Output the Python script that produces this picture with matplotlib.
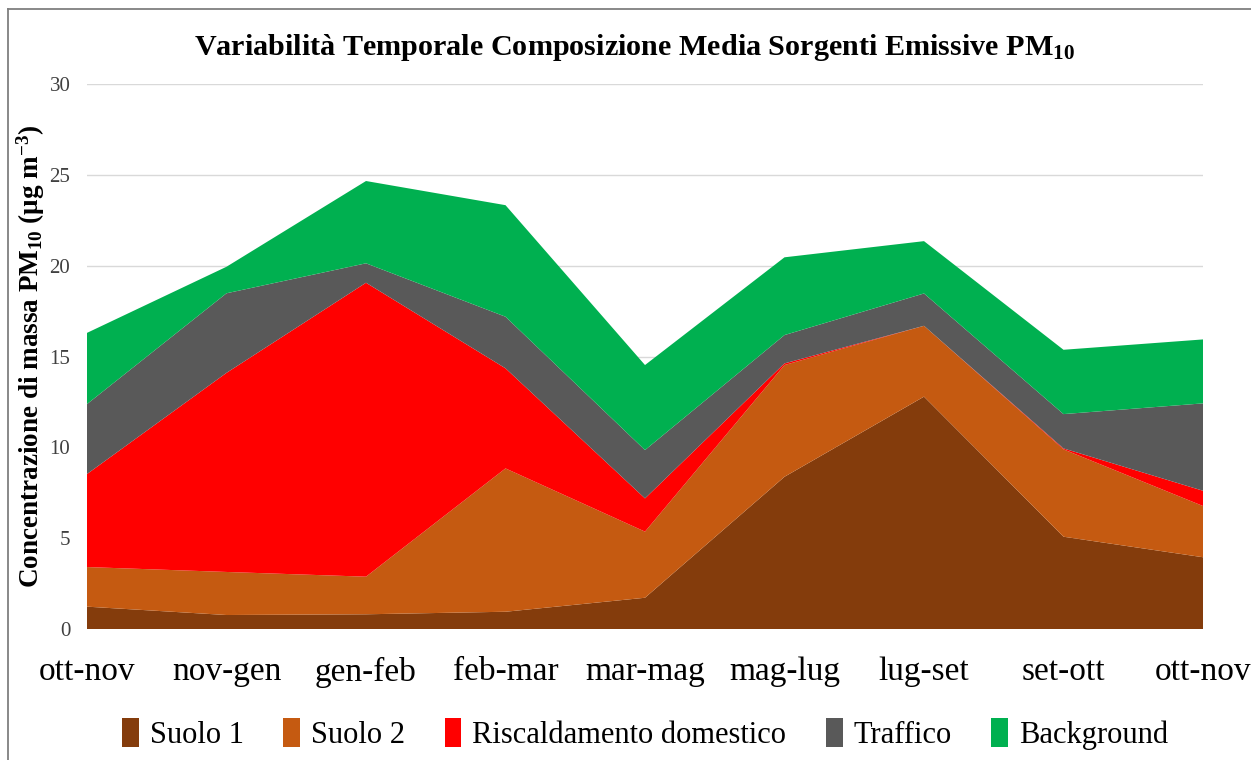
import matplotlib
matplotlib.use("Agg")
import matplotlib.pyplot as plt
import numpy as np
from matplotlib.lines import Line2D

# periods (x axis)
periods = ["ott-nov", "nov-gen", "gen-feb", "feb-mar", "mar-mag",
           "mag-lug", "lug-set", "set-ott", "ott-nov"]

# source contributions, ug/m3
suolo_1 = [1.23, 0.77, 0.81, 0.95, 1.72, 8.38, 12.79, 5.08, 3.95]
suolo_2 = [2.18, 2.37, 2.07, 7.89, 3.64, 6.15, 3.90, 4.81, 2.82]
riscaldamento = [5.12, 10.96, 16.18, 5.51, 1.83, 0.09, 0.0, 0.05, 0.84]
traffico = [3.85, 4.38, 1.07, 2.84, 2.66, 1.56, 1.78, 1.89, 4.81]
background = [3.92, 1.46, 4.53, 6.14, 4.68, 4.28, 2.88, 3.54, 3.52]

labels = ["Suolo 1", "Suolo 2", "Riscaldamento domestico", "Traffico", "Background"]
colors = ["#843C0C", "#C55A11", "#FF0000", "#595959", "#00B050"]

plt.rcParams["font.family"] = ["Liberation Serif", "DejaVu Serif"]
plt.rcParams["mathtext.default"] = "regular"

fig = plt.figure(figsize=(12.51, 7.6), dpi=100)
ax = fig.add_axes([87 / 1251, 1 - 629 / 760, (1203 - 87) / 1251, (629 - 84) / 760])

x = np.arange(len(periods))
ax.stackplot(x, suolo_1, suolo_2, riscaldamento, traffico, background,
             colors=colors, labels=labels, linewidth=0)

ax.set_xlim(0, len(periods) - 1)
ax.set_ylim(0, 30)
ax.set_yticks(range(0, 31, 5))
ax.yaxis.grid(True, color="#D9D9D9", linewidth=1)
ax.set_axisbelow(True)
for s in ax.spines.values():
    s.set_visible(False)

ax.set_xticks(x)
ax.set_xticklabels(periods, fontsize=24)
ax.tick_params(axis="x", length=0, pad=20)
ax.tick_params(axis="y", length=0, pad=12, labelsize=15, labelcolor="#404040")

ax.set_ylabel("Concentrazione di massa PM$_{10}$ ($\\mu$g m$^{-3}$)",
              fontsize=19.5, fontweight="bold")
ax.yaxis.set_label_coords(-0.036, 0.5)

fig.text(0.507, 0.938, "Variabilità Temporale Composizione Media Sorgenti Emissive PM$_{10}$",
         ha="center", va="center", fontsize=21.7, fontweight="bold")

leg = ax.legend(loc="center", bbox_to_anchor=(0.5, -0.192), ncol=5, frameon=False,
                fontsize=22, handlelength=0.55, handleheight=1.1, handletextpad=0.35,
                columnspacing=1.3)

# frame lines on left and top of the picture
fig.lines.append(Line2D([8 / 1251, 8 / 1251], [0, 1 - 9 / 760], transform=fig.transFigure,
                        color="#7F7F7F", linewidth=1.3))
fig.lines.append(Line2D([8 / 1251, 1], [1 - 9 / 760, 1 - 9 / 760], transform=fig.transFigure,
                        color="#7F7F7F", linewidth=1.3))

fig.savefig("out.png", dpi=100)
